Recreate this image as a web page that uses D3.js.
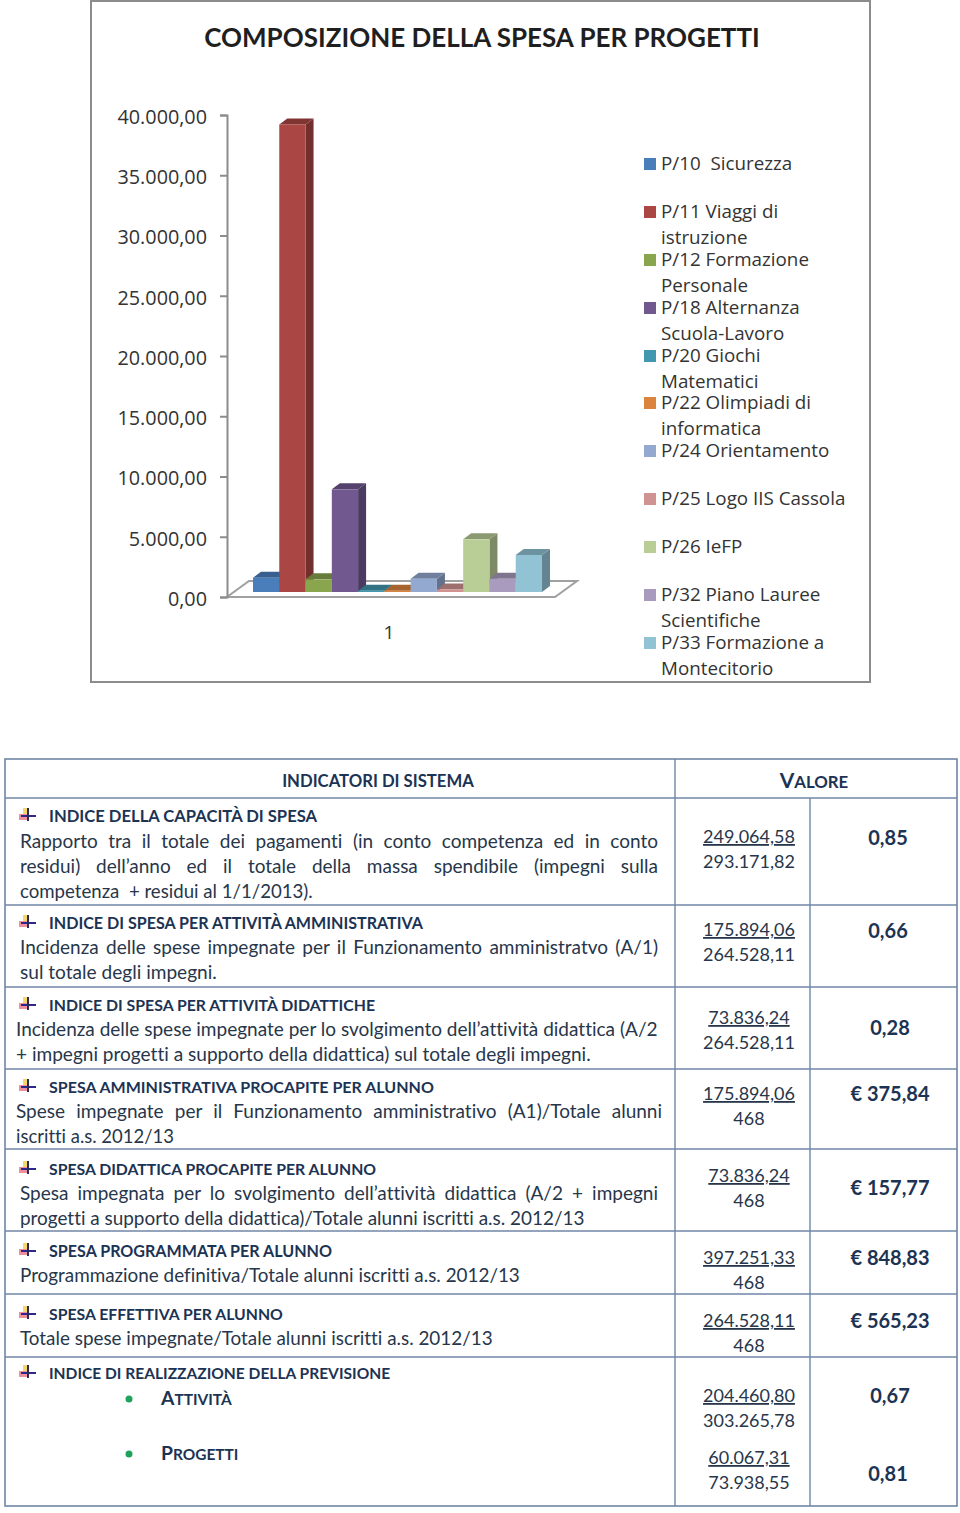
<!DOCTYPE html>
<html>
<head>
<meta charset="utf-8">
<script src="https://cdn.jsdelivr.net/npm/d3@7"></script>
<style>
    html, body { margin: 0; padding: 0; background: #fff; }
    svg { display: block; }
    .chart text { font-family: "Open Sans", sans-serif; fill: #333; white-space: pre; }
    .table text { font-family: Lato, sans-serif; fill: #27364a; font-variant-ligatures: none; white-space: pre; }
    .table .head { font-weight: 700; fill: #1c3353; }
</style>
</head>
<body>
<div id="vis"></div>
<script>
/* chart data */
const chartTitle = "COMPOSIZIONE DELLA SPESA PER PROGETTI";
const seriesNames = ["P/10", "P/11", "P/12", "P/18", "P/20", "P/22", "P/24", "P/25", "P/26", "P/32", "P/33"];
const seriesValues = [1190, 38800, 1050, 8520, 100, 100, 1100, 200, 4370, 1100, 3070];
const seriesColors = ["#4a7ebb", "#aa4643", "#89a54e", "#71588f", "#4198af", "#db843d", "#93a9cf", "#d19392", "#b9cd96", "#a99bbd", "#92c3d5"];
const yTicks = [0, 5000, 10000, 15000, 20000, 25000, 30000, 35000, 40000];
const legendLabels = [
    ["P/10  Sicurezza"],
    ["P/11 Viaggi di", "istruzione"],
    ["P/12 Formazione", "Personale"],
    ["P/18 Alternanza", "Scuola-Lavoro"],
    ["P/20 Giochi", "Matematici"],
    ["P/22 Olimpiadi di", "informatica"],
    ["P/24 Orientamento"],
    ["P/25 Logo IIS Cassola"],
    ["P/26 IeFP"],
    ["P/32 Piano Lauree", "Scientifiche"],
    ["P/33 Formazione a", "Montecitorio"]
];

/* table data */
const tableHeads = ["INDICATORI DI SISTEMA", "VALORE"];
const rowTitles = [
    "INDICE DELLA CAPACITÀ DI SPESA",
    "INDICE DI SPESA PER ATTIVITÀ AMMINISTRATIVA",
    "INDICE DI SPESA PER ATTIVITÀ DIDATTICHE",
    "SPESA AMMINISTRATIVA PROCAPITE PER ALUNNO",
    "SPESA DIDATTICA PROCAPITE PER ALUNNO",
    "SPESA PROGRAMMATA PER ALUNNO",
    "SPESA EFFETTIVA PER ALUNNO",
    "INDICE DI REALIZZAZIONE DELLA PREVISIONE"
];
const rowText = [
    ["Rapporto tra il totale dei pagamenti (in conto competenza ed in conto", "residui) dell’anno ed il totale della massa spendibile (impegni sulla", "competenza  + residui al 1/1/2013)."],
    ["Incidenza delle spese impegnate per il Funzionamento amministratvo (A/1)", "sul totale degli impegni."],
    ["Incidenza delle spese impegnate per lo svolgimento dell’attività didattica (A/2", "+ impegni progetti a supporto della didattica) sul totale degli impegni."],
    ["Spese impegnate per il Funzionamento amministrativo (A1)/Totale alunni", "iscritti a.s. 2012/13"],
    ["Spesa impegnata per lo svolgimento dell’attività didattica (A/2 + impegni", "progetti a supporto della didattica)/Totale alunni iscritti a.s. 2012/13"],
    ["Programmazione definitiva/Totale alunni iscritti a.s. 2012/13"],
    ["Totale spese impegnate/Totale alunni iscritti a.s. 2012/13"],
    []
];
const subItems = ["ATTIVITÀ", "PROGETTI"];
const numerators = ["249.064,58", "175.894,06", "73.836,24", "175.894,06", "73.836,24", "397.251,33", "264.528,11", "204.460,80", "60.067,31"];
const denominators = ["293.171,82", "264.528,11", "264.528,11", "468", "468", "468", "468", "303.265,78", "73.938,55"];
const results = ["0,85", "0,66", "0,28", "€ 375,84", "€ 157,77", "€ 848,83", "€ 565,23", "0,67", "0,81"];

/* layout, y = vertical centre of the text line, ends = right edge of the line */
const titleY = [816, 923, 1005, 1087, 1169, 1251, 1314, 1373];
const titleEnd = [317, 423, 375, 434, 376, 332, 283, 390];
const textY = [[842, 867, 892], [948, 973], [1030, 1055], [1112, 1137], [1194, 1219], [1276], [1339], []];
const textX = [20, 20, 16, 16, 20, 20, 20, 20];
const textEnd = [[658, 658, 313], [658, 217], [658, 591], [662, 174], [658, 585], [520], [493], []];
const justified = [[1, 1, 0], [1, 0], [0, 0], [1, 0], [1, 0], [0], [0], []];
const numY = [836, 929, 1017, 1093, 1175, 1257, 1320, 1395, 1457];
const resultY = [838, 931, 1028, 1094, 1188, 1258, 1321, 1396, 1474];
const resultX = [888, 888, 890, 890, 890, 890, 890, 890, 888];
const rowLines = [798, 905, 987, 1069, 1149, 1231, 1294, 1357];
const legendY = [164, 212, 260, 308, 356, 403, 451, 499, 547, 595, 643];

const svg = d3.select("#vis").append("svg").attr("width", 960).attr("height", 1513);

/* ---------- chart ---------- */
const chart = svg.append("g").attr("class", "chart");

chart.append("rect")
    .attr("x", 91).attr("y", 1)
    .attr("width", 779).attr("height", 681)
    .attr("fill", "#fff").attr("stroke", "#8c8c8c").attr("stroke-width", 2);

chart.append("text")
    .attr("x", 482).attr("y", 47)
    .attr("text-anchor", "middle")
    .style("font-family", "Lato, sans-serif")
    .style("font-size", "26px")
    .style("font-weight", 700)
    .style("fill", "#1f1f1f")
    .text(chartTitle);

let y = d3.scaleLinear().domain([0, 40000]).range([597, 115]);
let x = d3.scaleBand().domain(seriesNames).range([253, 542]);
const depth = {dx: 8, dy: -6};
const floor = {dx: 22, dy: -16, right: 555};

// floor of the 3d plot
chart.append("path")
    .attr("d", d3.line()([
        [x.range()[0] - 26, y(0)],
        [floor.right, y(0)],
        [floor.right + floor.dx, y(0) + floor.dy],
        [x.range()[0] - 26 + floor.dx, y(0) + floor.dy]
    ]) + "Z")
    .attr("fill", "#fff")
    .attr("stroke", "#a0a0a0")
    .attr("stroke-width", 2);

// locale with dot for thousands, comma for decimals
const itFormat = d3.formatLocale({decimal: ",", thousands: ".", grouping: [3], currency: ["€", ""]}).format(",.2f");
const yAxis = d3.axisLeft(y).tickValues(yTicks).tickFormat(itFormat).tickSize(7).tickPadding(13);
const yAxisGroup = chart.append("g")
    .attr("transform", "translate(227,0)")
    .call(yAxis);
yAxisGroup.selectAll("path, line").attr("stroke", "#8c8c8c").attr("stroke-width", 2);
yAxisGroup.selectAll("text")
    .attr("dy", "0.42em")
    .style("font-size", "19.8px")
    .style("fill", "#333")
    .style("font-family", '"Open Sans", sans-serif');

// bars, front face sits a little above the axis baseline
const barShift = -5;
const bars = chart.append("g").attr("transform", `translate(0,${barShift})`)
    .selectAll("g")
    .data(seriesNames)
    .enter()
    .append("g");

bars.each(function (d, i) {
    let g = d3.select(this);
    let x0 = x(d), x1 = x0 + x.bandwidth();
    let top = y(seriesValues[i]), base = y(0);
    let c = seriesColors[i];

    // side face
    g.append("path")
        .attr("d", d3.line()([[x1, top], [x1 + depth.dx, top + depth.dy], [x1 + depth.dx, base + depth.dy], [x1, base]]) + "Z")
        .attr("fill", d3.rgb(c).darker(1.1));
    // top face
    g.append("path")
        .attr("d", d3.line()([[x0, top], [x0 + depth.dx, top + depth.dy], [x1 + depth.dx, top + depth.dy], [x1, top]]) + "Z")
        .attr("fill", d3.rgb(c).darker(0.8));
    // front face
    g.append("rect")
        .attr("x", x0).attr("y", top)
        .attr("width", x.bandwidth()).attr("height", base - top)
        .attr("fill", c);
});

chart.append("text")
    .attr("x", 389).attr("y", 639)
    .attr("text-anchor", "middle")
    .style("font-size", "19px")
    .text("1");

// legend
const legend = chart.append("g").selectAll("g")
    .data(legendLabels)
    .enter()
    .append("g")
    .attr("transform", (d, i) => `translate(644,${legendY[i]})`);

legend.append("rect")
    .attr("y", -6).attr("width", 12).attr("height", 12)
    .attr("fill", (d, i) => seriesColors[i]);

legend.selectAll("text")
    .data(d => d)
    .enter()
    .append("text")
    .attr("x", 17)
    .attr("y", (d, i) => i * 26 + 6)
    .style("font-size", "18.8px")
    .text(d => d);

/* ---------- table ---------- */
const table = svg.append("g").attr("class", "table");
const lineColor = "#6f86a6";

table.append("rect")
    .attr("x", 5).attr("y", 759)
    .attr("width", 952).attr("height", 747)
    .attr("fill", "none").attr("stroke", lineColor).attr("stroke-width", 1.6);

table.selectAll(".rowline")
    .data(rowLines)
    .enter()
    .append("line")
    .attr("class", "rowline")
    .attr("x1", 5).attr("x2", 957)
    .attr("y1", d => d).attr("y2", d => d)
    .attr("stroke", lineColor).attr("stroke-width", 1.4);

table.append("line").attr("x1", 675).attr("x2", 675).attr("y1", 759).attr("y2", 1506).attr("stroke", lineColor).attr("stroke-width", 1.4);
table.append("line").attr("x1", 810).attr("x2", 810).attr("y1", 798).attr("y2", 1506).attr("stroke", lineColor).attr("stroke-width", 1.4);

const bodySize = 19, headSize = 16.7, numSize = 18;

// capital letter big, the rest in small caps size
function smallCaps(sel, str, size) {
    sel.append("tspan").style("font-size", size + "px").text(str[0]);
    sel.append("tspan").style("font-size", size * 0.8 + "px").text(str.slice(1));
}

// scale the font of a label so that it ends at the given x
function fitSize(label, size, width) {
    label.style("font-size", size * width / label.node().getComputedTextLength() + "px");
}

table.append("text").attr("class", "head")
    .attr("x", 378).attr("y", 787)
    .attr("text-anchor", "middle")
    .style("font-size", headSize + "px")
    .text(tableHeads[0]);

table.append("text").attr("class", "head")
    .attr("x", 814).attr("y", 788)
    .attr("text-anchor", "middle")
    .call(smallCaps, tableHeads[1], 21);

// bullet icon drawn next to each indicator title
function bullet(cx, cy) {
    let g = table.append("g").attr("transform", `translate(${cx},${cy})`);
    g.append("rect").attr("x", -5).attr("y", -7).attr("width", 6).attr("height", 7).attr("fill", "#f5d76e");
    g.append("rect").attr("x", -9).attr("y", -1).attr("width", 8).attr("height", 6).attr("fill", "#ee8f9c");
    g.append("rect").attr("x", -7).attr("y", 0).attr("width", 15).attr("height", 2).attr("fill", "#2b2a8c");
    g.append("rect").attr("x", -1).attr("y", -7).attr("width", 2).attr("height", 13).attr("fill", "#2b2a58");
}

rowTitles.forEach((t, i) => {
    bullet(28, titleY[i] - 1);
    let title = table.append("text").attr("class", "head")
        .attr("x", 49).attr("y", titleY[i] + 6)
        .style("font-size", headSize + "px")
        .text(t);
    fitSize(title, headSize, titleEnd[i] - 49);

    rowText[i].forEach((line, j) => {
        let label = table.append("text")
            .attr("x", textX[i]).attr("y", textY[i][j] + 6)
            .style("font-size", bodySize + "px")
            .text(line);
        let width = textEnd[i][j] - textX[i];
        // justified lines get extra word spacing up to the right margin
        if (justified[i][j]) {
            let gaps = line.split(" ").length - 1;
            let extra = (width - label.node().getComputedTextLength()) / gaps;
            label.style("word-spacing", extra + "px");
        } else {
            fitSize(label, bodySize, width);
        }
    });
});

// sub items of the last row
[1399, 1454].forEach((cy, i) => {
    table.append("circle").attr("cx", 129).attr("cy", cy).attr("r", 3.5).attr("fill", "#1fa35c");
    table.append("text").attr("class", "head")
        .attr("x", 161).attr("y", cy + 6)
        .call(smallCaps, subItems[i], 19.3);
});

// values
numerators.forEach((n, i) => {
    table.append("text")
        .attr("x", 749).attr("y", numY[i] + 7)
        .attr("text-anchor", "middle")
        .style("font-size", numSize + "px")
        .style("text-decoration", "underline")
        .text(n);
    table.append("text")
        .attr("x", 749).attr("y", numY[i] + 32)
        .attr("text-anchor", "middle")
        .style("font-size", numSize + "px")
        .text(denominators[i]);
    table.append("text").attr("class", "head")
        .attr("x", resultX[i]).attr("y", resultY[i] + 7)
        .attr("text-anchor", "middle")
        .style("font-size", "20px")
        .text(results[i]);
});
</script>
</body>
</html>
